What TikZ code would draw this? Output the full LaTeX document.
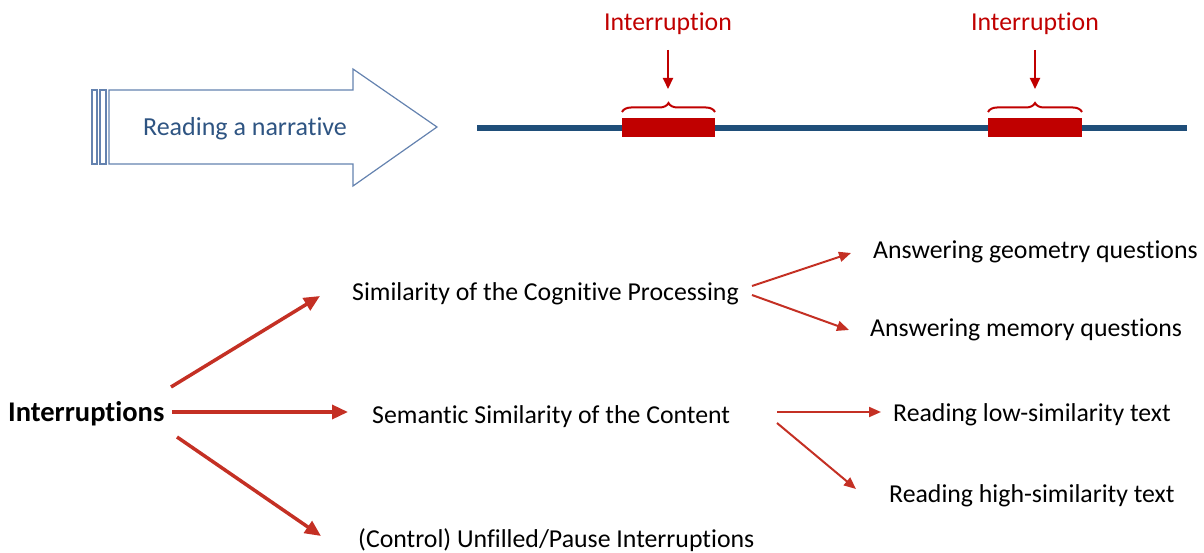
\documentclass[tikz,border=0pt]{standalone}
\usepackage{fontspec}
\setmainfont{Carlito}[Ligatures=NoCommon]
\usetikzlibrary{arrows.meta,decorations.pathreplacing}
\definecolor{arrred}{RGB}{196,48,36}
\definecolor{intred}{RGB}{192,0,0}
\definecolor{lineblue}{RGB}{31,78,121}
\definecolor{outblue}{RGB}{100,130,175}
\definecolor{txtblue}{RGB}{46,84,130}
\tikzset{
  lbl/.style={inner sep=0pt, anchor=center, font=\fontsize{25.8}{30}\selectfont},
  redlbl/.style={lbl, text=intred},
  bigarr/.style={draw=arrred, line width=3.5pt, -{Triangle[length=16pt,width=14pt]}},
  smallarr/.style={draw=arrred, line width=2pt, -{Triangle[length=12pt,width=10pt]}},
  downarr/.style={draw=intred, line width=2pt, -{Triangle[length=11pt,width=10pt]}},
  gap/.style={fill=intred},
  brc/.style={draw=intred, line width=2pt, decorate, decoration={brace, amplitude=9pt}},
}
\begin{document}
\begin{tikzpicture}[x=1pt,y=-1pt]
\useasboundingbox (0,0) rectangle (1204,553);
% narrative arrow
\draw[outblue, line width=1.2pt] (92,90) rectangle (97,164);
\draw[outblue, line width=1.2pt] (100,90) rectangle (106,164);
\draw[outblue, line width=1.2pt] (109,90) -- (353,90) -- (353,69) -- (437,127) -- (353,186) -- (353,164) -- (109,164) -- cycle;
\node[lbl, text=txtblue, font=\fontsize{26}{30}\selectfont] (narr) at (245,129) {Reading a narrative};
% timeline
\coordinate (tl0) at (477,128);
\coordinate (tl1) at (1187,128);
\draw[lineblue, line width=6pt] (tl0) -- (tl1);
\fill[gap] (622,118) rectangle (715,137);
\fill[gap] (988,118) rectangle (1082,137);
\draw[brc] (622,112) -- (715,112);
\draw[brc] (988,112) -- (1082,112);
\node[redlbl] (i1) at (668,24) {Interruption};
\node[redlbl] (i2) at (1035,24) {Interruption};
\coordinate (b1) at (668,89);
\coordinate (b2) at (1035,89);
\draw[downarr] (668,50) -- (b1);
\draw[downarr] (1035,50) -- (b2);
% tree
\node[lbl, font=\fontsize{28.5}{32}\selectfont\bfseries, anchor=west] (root) at (8,414) {Interruptions};
\node[lbl, anchor=west] (cog) at (352,294) {Similarity of the Cognitive Processing};
\node[lbl, anchor=west] (sem) at (372,417) {Semantic Similarity of the Content};
\node[lbl, anchor=west] (ctl) at (358,540) {(Control) Unfilled/Pause Interruptions};
\node[lbl, anchor=west] (geo) at (873,252) {Answering geometry questions};
\node[lbl, anchor=west] (mem) at (870,330) {Answering memory questions};
\node[lbl, anchor=west] (low) at (893,415) {Reading low-similarity text};
\node[lbl, anchor=west] (high) at (889,496) {Reading high-similarity text};
\coordinate (r1) at (171,387);
\coordinate (r2) at (172,412);
\coordinate (r3) at (177,437);
\coordinate (e1) at (320,296);
\coordinate (e2) at (348,412);
\coordinate (e3) at (321,536);
\draw[bigarr] (r1) -- (e1);
\draw[bigarr] (r2) -- (e2);
\draw[bigarr] (r3) -- (e3);
\coordinate (c1) at (752,286);
\coordinate (c2) at (752,295);
\coordinate (s1) at (777,412);
\coordinate (s2) at (777,423);
\coordinate (g1) at (851,253);
\coordinate (m1) at (849,330);
\coordinate (l1) at (881,412);
\coordinate (h1) at (856,489);
\draw[smallarr] (c1) -- (g1);
\draw[smallarr] (c2) -- (m1);
\draw[smallarr] (s1) -- (l1);
\draw[smallarr] (s2) -- (h1);
\end{tikzpicture}
\end{document}
